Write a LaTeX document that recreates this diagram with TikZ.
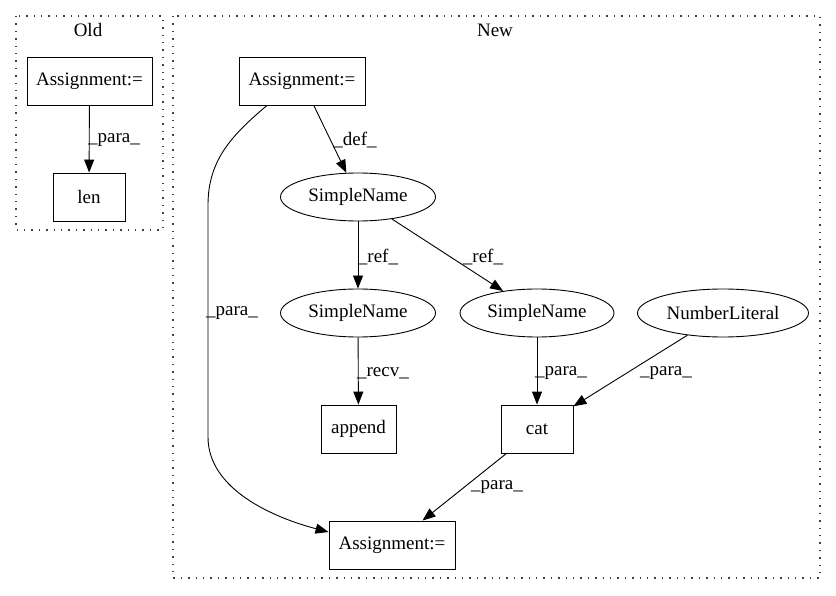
\documentclass[tikz,border=0pt]{standalone}
\usepackage{fontspec}
\setmainfont{Liberation Serif}
\usetikzlibrary{shapes.geometric,arrows.meta}
\begin{document}
\begin{tikzpicture}[x=1pt,y=-1pt,
  every node/.style={font=\fontsize{19}{23}\selectfont, inner sep=0pt},
  box/.style={draw, line width=0.9pt, rectangle, minimum height=48pt},
  oval/.style={draw, line width=0.9pt, ellipse, minimum height=48pt},
  cluster/.style={draw=black!75, line width=1.4pt, dash pattern=on 1.4pt off 6pt},
  edge/.style={line width=0.9pt, -{Triangle[length=13pt,width=10pt]}},
  lbl/.style={}
]
\useasboundingbox (0,0) rectangle (836,596);
% clusters
\draw[cluster] (16,16) rectangle (163,230);
\draw[cluster] (173,16) rectangle (820,578);
\node (oldt) at (88,30) {Old};
\node (newt) at (495,30) {New};
% Old nodes
\node[box, minimum width=125pt] (oa) at (89.5,81) {Assignment:=};
\node[box, minimum width=72pt] (len) at (89,197) {len};
% New nodes
\node[box, minimum width=126pt] (ta) at (302,81) {Assignment:=};
\node[oval, minimum width=155pt] (sn1) at (358,197) {SimpleName};
\node[oval, minimum width=155pt] (sn2) at (358,313) {SimpleName};
\node[oval, minimum width=154pt] (sn3) at (537,313) {SimpleName};
\node[oval, minimum width=171pt] (nl) at (723,313) {NumberLiteral};
\node[box, minimum width=75pt] (app) at (358.5,429) {append};
\node[box, minimum width=72pt] (cat) at (537,429) {cat};
\node[box, minimum width=126pt] (ba) at (392,545) {Assignment:=};
% edges
\draw[edge] (oa) -- (len);
\node[lbl] (l0) at (114,140) {\_para\_};
\draw[edge] (ta) -- (sn1);
\node[lbl] (l1) at (355,140) {\_def\_};
\draw[edge] ([xshift=-35pt]ta.south) .. controls (232,135) and (208,160) .. (208,205) -- (208,437) .. controls (208,490) and (275,518) .. ([yshift=13pt]ba.west);
\node[lbl] (l2) at (232,313) {\_para\_};
\draw[edge] (sn1) -- (sn2);
\node[lbl] (l3) at (378,257) {\_ref\_};
\draw[edge] (sn1) -- (sn3);
\node[lbl] (l4) at (483,257) {\_ref\_};
\draw[edge] (sn2) -- (app);
\node[lbl] (l5) at (383,373) {\_recv\_};
\draw[edge] (sn3) -- (cat);
\node[lbl] (l6) at (561,373) {\_para\_};
\draw[edge] (nl) -- (cat);
\node[lbl] (l7) at (666,373) {\_para\_};
\draw[edge] (cat) -- (ba);
\node[lbl] (l8) at (497,487) {\_para\_};
\end{tikzpicture}
\end{document}
